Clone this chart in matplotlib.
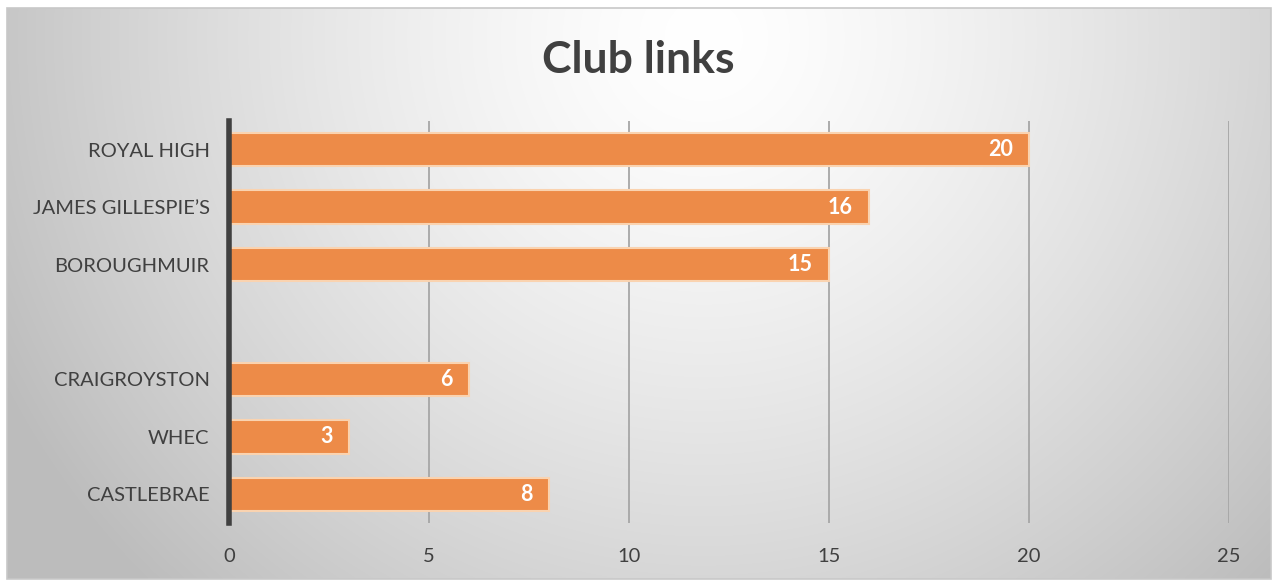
import numpy as np
import matplotlib
matplotlib.use("Agg")
import matplotlib.pyplot as plt
from matplotlib.patches import Rectangle

categories = ["ROYAL HIGH", "JAMES GILLESPIE\u2019S", "BOROUGHMUIR", "", "CRAIGROYSTON", "WHEC", "CASTLEBRAE"]
values = [20, 16, 15, None, 6, 3, 8]
xticks = [0, 5, 10, 15, 20, 25]
title = "Club links"

plt.rcParams['font.family'] = ['Lato', 'DejaVu Sans']

W, H = 1274, 580
fig = plt.figure(figsize=(W / 100, H / 100), dpi=100)
fig.patch.set_facecolor("white")

# background gradient inside border
bx0, by0, bx1, by1 = 7, 8, 1271, 579
bg = fig.add_axes([bx0 / W, 1 - by1 / H, (bx1 - bx0) / W, (by1 - by0) / H], zorder=0)
ny, nx = 200, 400
yy, xx = np.mgrid[0:ny, 0:nx]
cx, cy = nx * 0.55, ny * 0.05
d = np.sqrt(((xx - cx) / (nx * 0.62)) ** 2 + ((yy - cy) / (ny * 1.35)) ** 2)
d = np.clip(d, 0, 1)
val = 1.0 - 0.26 * d ** 1.4
img = np.dstack([val, val, val])
bg.imshow(img, aspect="auto", extent=[0, 1, 0, 1], interpolation="bilinear")
bg.set_axis_off()
fig.patches.append(Rectangle((bx0 / W, 1 - by1 / H), (bx1 - bx0) / W, (by1 - by0) / H,
                             transform=fig.transFigure, fill=False, edgecolor="#c8c8c8",
                             linewidth=1.2, zorder=5))

ax = fig.add_axes([229 / W, 57 / H, 1000 / W, 402 / H], zorder=2)
ax.patch.set_alpha(0)

ypos = np.arange(len(categories))
for i, v in enumerate(values):
    if v is None:
        continue
    ax.barh(ypos[i], v, height=0.58, color="#ED8B48", edgecolor="#FAD3B0",
            linewidth=1.5, zorder=3)
    ax.text(v - 0.4, ypos[i], str(v), ha="right", va="center", color="white",
            fontsize=15.5, fontweight="bold", zorder=4)

ax.set_xlim(0, 25)
ax.set_ylim(len(categories) - 0.5, -0.5)
ax.set_yticks(ypos)
ax.set_yticklabels(categories, fontsize=14.5, color="#404040")
ax.set_xticks(xticks)
ax.set_xticklabels([str(t) for t in xticks], fontsize=14.5, color="#404040")
ax.tick_params(axis="both", length=0)
ax.tick_params(axis="y", pad=14)
ax.tick_params(axis="x", pad=18)
for t in xticks[1:]:
    ax.axvline(t, color="#a6a6a6", linewidth=1.3, zorder=1)
for s in ["top", "right", "bottom"]:
    ax.spines[s].set_visible(False)
ax.spines["left"].set_color("#404040")
ax.spines["left"].set_linewidth(4)
ax.spines["left"].set_zorder(5)

fig.text(638 / W, 1 - 60 / H, title, ha="center", va="center", fontsize=32,
         fontweight="bold", color="#404040")

fig.savefig("out.png", dpi=100, facecolor=fig.get_facecolor())
